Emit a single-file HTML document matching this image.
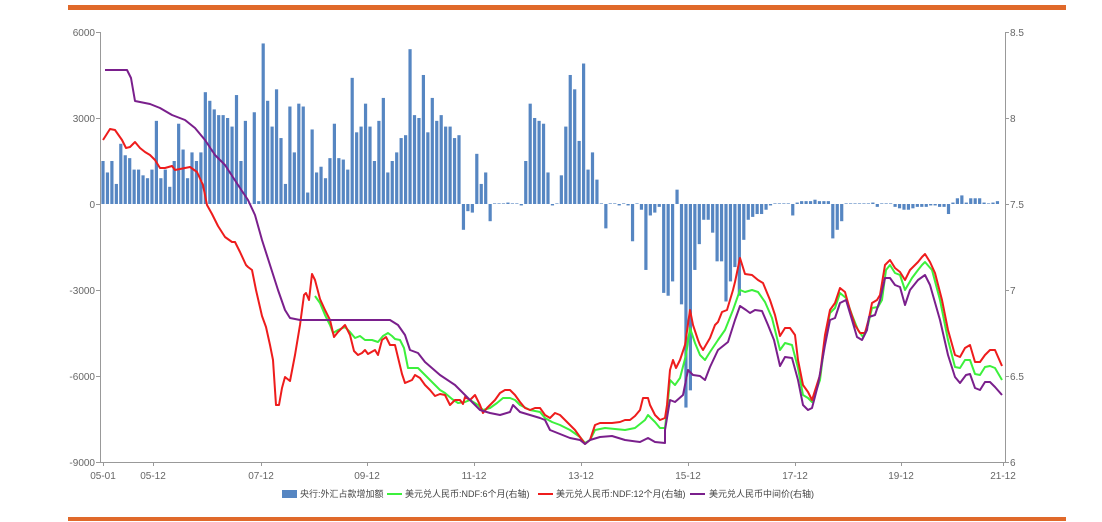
<!DOCTYPE html>
<html><head><meta charset="utf-8"><style>
html,body{margin:0;padding:0;background:#fff;}
svg{display:block;font-family:"Liberation Sans","Noto Sans CJK SC",sans-serif;}
</style></head><body>
<svg id="s" width="1102" height="522" viewBox="0 0 1102 522" xmlns="http://www.w3.org/2000/svg">
<rect x="68" y="5" width="998" height="5" fill="#e0692a"/>
<rect x="68" y="517" width="998" height="4" fill="#e0692a"/>
<g id="bars" fill="#5686c2"></g>
<g fill="none" stroke-width="2" stroke-linejoin="round">
<polyline stroke="#3cf03c" points="315,296 320,303 325,315 330,325 333,333 338,330 345,327 350,332 355,338 360,336 365,340 372,340 378,342 383,336 388,333 392,336 395,339 400,340 404,348 408,368 412,368 418,368 425,375 430,380 435,385 440,390 445,393 452,399 458,403 465,402 470,400 478,405 483,410 490,408 497,403 503,398 510,398 515,400 520,405 530,410 540,412 545,418 552,422 560,425 570,430 580,437 585,443 590,440 595,430 605,428 615,429 625,430 635,428 645,420 648,415 655,422 660,428 665,428 667,410 670,380 675,385 680,378 686,355 690,328 695,343 700,355 705,360 710,352 718,340 725,330 733,310 740,290 745,292 752,290 758,292 765,302 772,318 780,350 785,343 792,345 798,368 803,395 808,398 812,402 820,380 825,340 830,313 835,308 840,293 846,298 852,315 858,330 863,337 868,325 872,308 878,307 882,300 886,270 890,265 895,273 900,275 905,290 912,278 918,270 922,265 925,262 932,270 940,300 948,340 955,367 960,368 965,360 970,360 975,374 980,375 985,367 990,366 995,368 1002,380"/>
<polyline stroke="#ee1c1c" points="103,140 110,129 115,130 122,140 126,148 130,147 135,142 140,148 145,152 150,155 155,160 160,168 165,168 172,166 175,170 180,169 190,167 197,172 203,185 207,205 212,214 218,226 225,237 232,242 235,242 240,252 246,265 248,267 252,270 256,290 262,316 266,327 270,345 273,360 276,405 279,405 282,388 285,377 290,381 295,355 300,325 304,295 306,293 309,300 312,274 315,280 320,299 325,310 330,320 334,337 338,332 342,328 345,325 350,335 354,351 358,355 362,353 365,350 368,354 375,350 378,355 382,340 386,337 390,345 395,345 402,374 405,383 412,380 415,375 420,378 425,385 430,390 435,396 440,394 445,395 450,405 455,400 460,400 463,404 465,397 470,400 475,395 480,405 483,413 487,408 495,400 500,393 505,390 510,390 515,395 520,402 525,408 530,410 535,408 540,408 545,415 550,418 555,413 560,415 565,420 570,425 575,430 585,444 590,440 595,425 600,423 605,423 612,423 620,422 625,420 630,420 635,416 640,410 643,398 648,398 650,405 655,415 660,420 665,418 667,405 670,370 673,360 676,368 680,360 685,345 690,310 693,325 698,340 700,345 703,350 710,338 715,325 718,322 722,312 727,310 733,290 735,282 740,258 745,274 752,275 758,280 763,283 770,300 775,315 780,336 785,328 790,328 795,335 798,360 803,385 808,392 812,400 820,375 825,335 830,310 835,303 840,288 845,292 850,310 855,325 860,333 865,333 869,318 872,303 877,300 880,295 885,265 890,260 895,268 900,272 905,280 910,270 918,262 922,257 925,254 930,262 935,273 942,300 948,330 955,355 960,357 965,348 970,345 975,362 980,362 985,355 990,350 995,350 1002,366"/>
<polyline stroke="#7a1f8c" points="105,70 127,70 131,78 135,101 150,104 160,108 172,115 185,120 195,128 205,140 215,155 225,165 240,188 248,200 255,215 262,240 270,265 278,290 285,310 290,318 300,320 320,320 350,320 390,320 398,325 405,335 410,350 418,353 425,362 440,375 455,385 465,395 475,405 480,410 490,413 500,415 510,412 513,405 520,412 530,415 540,418 545,420 550,430 560,434 570,438 580,440 585,444 590,440 600,437 612,436 625,440 640,442 648,438 655,442 665,443 665,430 670,400 675,402 683,395 688,370 693,375 700,376 705,380 710,367 718,350 728,342 735,320 740,306 746,310 750,313 755,310 762,311 768,325 774,340 780,366 785,357 792,358 798,380 803,405 808,410 812,408 818,385 825,345 830,320 835,318 840,303 846,300 852,320 857,337 862,340 867,330 869,317 875,315 880,300 885,278 890,278 895,285 900,287 905,305 910,290 918,280 925,275 930,285 940,320 948,355 955,377 960,383 966,375 970,374 975,388 980,390 985,382 990,382 995,387 1002,395"/>
</g>
<g stroke="#999" stroke-width="1" fill="none">
<line x1="100.5" y1="32" x2="100.5" y2="462"/>
<line x1="1005.5" y1="32" x2="1005.5" y2="462"/>
<line x1="100" y1="462.5" x2="1005" y2="462.5"/>
<path d="M96 32.5h4M96 118.5h4M96 204.5h4M96 290.5h4M96 376.5h4M96 462.5h4"/>
<path d="M1005 32.5h4M1005 118.5h4M1005 204.5h4M1005 290.5h4M1005 376.5h4M1005 462.5h4"/>
<path d="M103.5 462v4M153.5 462v4M261.5 462v4M367.5 462v4M474.5 462v4M581.5 462v4M688.5 462v4M795.5 462v4M901.5 462v4M1003.5 462v4"/>
</g>
<g fill="#666" font-size="10" text-anchor="end">
<text x="95" y="36">6000</text><text x="95" y="122">3000</text><text x="95" y="208">0</text>
<text x="95" y="294">-3000</text><text x="95" y="380">-6000</text><text x="95" y="466">-9000</text>
</g>
<g fill="#666" font-size="10">
<text x="1010" y="36">8.5</text><text x="1010" y="122">8</text><text x="1010" y="208">7.5</text>
<text x="1010" y="294">7</text><text x="1010" y="380">6.5</text><text x="1010" y="466">6</text>
</g>
<g fill="#666" font-size="10" text-anchor="middle">
<text x="103" y="479">05-01</text><text x="153" y="479">05-12</text><text x="261" y="479">07-12</text>
<text x="367" y="479">09-12</text><text x="474" y="479">11-12</text><text x="581" y="479">13-12</text>
<text x="688" y="479">15-12</text><text x="795" y="479">17-12</text><text x="901" y="479">19-12</text>
<text x="1003" y="479">21-12</text>
</g>
<g font-size="9" fill="#444">
<rect x="282" y="490" width="15" height="8" fill="#5686c2"/>
<text x="300" y="497">央行:外汇占款增加额</text>
<line x1="387" y1="494" x2="402" y2="494" stroke="#3cf03c" stroke-width="2"/>
<text x="405" y="497">美元兑人民币:NDF:6个月(右轴)</text>
<line x1="538" y1="494" x2="553" y2="494" stroke="#ee1c1c" stroke-width="2"/>
<text x="556" y="497">美元兑人民币:NDF:12个月(右轴)</text>
<line x1="690" y1="494" x2="705" y2="494" stroke="#7a1f8c" stroke-width="2"/>
<text x="709" y="497">美元兑人民币中间价(右轴)</text>
</g>
</svg>
<script>
var v=[1.5,1.1,1.5,0.7,2.1,1.7,1.6,1.2,1.2,1.0,0.9,1.2,2.9,0.9,1.2,0.6,1.5,2.8,1.9,0.9,1.8,1.5,1.8,3.9,3.6,3.3,3.1,3.1,3.0,2.7,3.8,1.5,2.9,0,3.2,0.1,5.6,3.6,2.7,4.0,2.3,0.7,3.4,1.8,3.5,3.4,0.4,2.6,1.1,1.3,0.9,1.6,2.8,1.6,1.55,1.2,4.4,2.5,2.7,3.5,2.7,1.5,2.9,3.7,1.1,1.5,1.8,2.3,2.4,5.4,3.1,3.0,4.5,2.5,3.7,2.9,3.1,2.7,2.7,2.3,2.4,-0.9,-0.25,-0.3,1.75,0.7,1.1,-0.6,0,0.02,0.02,0.05,0.02,0,-0.05,1.5,3.5,3.0,2.9,2.8,1.1,-0.05,0,1.0,2.7,4.5,4.0,2.2,4.9,1.2,1.8,0.85,0,-0.85,0,0,-0.05,0,-0.05,-1.3,0,-0.2,-2.3,-0.4,-0.3,-0.1,-3.1,-3.2,-2.7,0.5,-3.5,-7.1,-6.5,-2.3,-1.4,-0.55,-0.55,-1.0,-2.0,-2.0,-3.4,-2.7,-2.2,-3.2,-1.25,-0.55,-0.45,-0.35,-0.35,-0.2,-0.05,0,0,0,0,-0.4,0.05,0.1,0.1,0.1,0.15,0.1,0.1,0.1,-1.2,-0.9,-0.6,0,0,0,0,0,0,0.05,-0.1,0,0,0,-0.1,-0.15,-0.2,-0.2,-0.15,-0.1,-0.1,-0.1,-0.05,-0.05,-0.1,-0.1,-0.35,0.05,0.2,0.3,0.05,0.2,0.2,0.2,0.05,0,0.05,0.1];
var g=document.getElementById('bars'),h='';
for(var i=0;i<v.length&&i<204;i++){var x=103+4.45*i-1.6,val=v[i]*28.67;if(Math.abs(val)<0.6)val=val<0?-0.6:0.6;var y=val>0?204-val:204;h+='<rect x="'+x.toFixed(2)+'" y="'+y.toFixed(2)+'" width="3.2" height="'+Math.abs(val).toFixed(2)+'"/>';}
g.innerHTML=h;
</script>
</body></html>
